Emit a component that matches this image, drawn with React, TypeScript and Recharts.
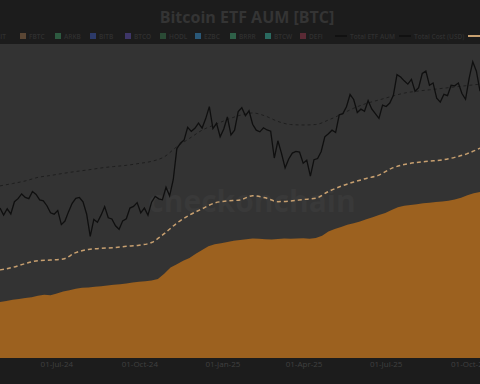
import React from "react";
import {
  ComposedChart,
  Area,
  Line,
  XAxis,
  YAxis,
} from "recharts";

// BTC price proxy (k USD), one value every 4 days from 29-Apr-24
const totalAumUsd = [
  63.5, 60.5, 63.2, 61.0, 66.2, 67.5, 69.5, 68.0, 67.5, 70.5,
  69.3, 67.0, 66.6, 64.5, 61.5, 60.9, 62.5, 56.5, 58.0, 62.0,
  65.5, 67.6, 68.0, 66.2, 61.0, 51.5, 58.7, 57.5, 60.5, 64.1,
  59.4, 58.9, 56.0, 54.5, 58.1, 59.0, 63.5, 64.2, 65.8, 61.5,
  63.5, 60.5, 66.0, 68.4, 67.4, 67.0, 72.3, 68.7, 75.5, 88.7,
  91.0, 92.3, 97.7, 96.0, 97.3, 99.5, 97.4, 101.4, 106.5, 97.2,
  99.4, 93.7, 97.0, 102.1, 94.5, 96.5, 104.4, 106.0, 102.6, 104.7,
  99.0, 96.5, 95.8, 97.5, 96.6, 96.1, 84.7, 92.0, 86.7, 80.5,
  84.3, 86.8, 87.5, 87.2, 82.5, 83.8, 77.0, 84.0, 84.5, 87.5,
  93.7, 95.0, 96.5, 95.5, 103.0, 103.5, 106.4, 111.6, 109.5, 104.0,
  105.4, 104.5, 109.0, 105.5, 103.5, 101.5, 107.1, 106.5, 108.0, 111.3,
  120.0, 119.0, 117.4, 116.0, 118.0, 113.0, 114.5, 120.5, 121.5, 115.5,
  116.5, 110.1, 108.4, 111.7, 111.1, 115.5, 115.3, 116.5, 112.0, 109.6,
  118.5, 125.5, 121.5, 113.0,
];

// smoothed USD line, every 14 days
const totalCostUsd = [
  72.9, 73.9, 75.0, 76.5, 77.3, 78.2, 79.0, 79.7, 80.5, 81.1,
  81.6, 82.4, 83.3, 85.2, 89.5, 93.0, 96.5, 98.8, 101.0, 102.8,
  103.8, 102.5, 100.2, 98.9, 98.7, 98.9, 100.8, 103.2, 105.8, 107.8,
  109.3, 110.8, 112.2, 113.0, 113.6, 114.2, 114.8, 115.4, 116.0,
];

// ETF holdings (k BTC), weekly
const etfHoldingsBtc = [
  826, 830, 836, 840, 845, 848, 855, 860, 858, 866,
  875, 882, 889, 893, 895, 898, 901, 904, 908, 910,
  913, 918, 922, 924, 928, 935, 960, 990, 1005, 1022,
  1035, 1055, 1073, 1090, 1100, 1105, 1110, 1116, 1120, 1123,
  1127, 1126, 1124, 1122, 1125, 1127, 1126, 1127, 1128, 1126,
  1129, 1140, 1160, 1172, 1182, 1192, 1200, 1208, 1218, 1228,
  1238, 1248, 1262, 1275, 1282, 1286, 1290, 1294, 1297, 1300,
  1303, 1306, 1312, 1320, 1332, 1342, 1348,
];

// dashed total (k BTC), every 14 days
const totalInflowBtc = [
  978, 990, 1008, 1022, 1025, 1030, 1060, 1075, 1080, 1084,
  1090, 1095, 1108, 1150, 1200, 1238, 1268, 1296, 1305, 1310,
  1330, 1320, 1302, 1305, 1312, 1318, 1350, 1375, 1395, 1412,
  1428, 1460, 1478, 1488, 1494, 1500, 1512, 1530, 1556,
];

// tick days (since 29-Apr-24) and labels
const tickDays = [63, 155, 247, 337, 428, 520];
const tickLabels = ["01-Jul-24", "01-Oct-24", "01-Jan-25", "01-Apr-25", "01-Jul-25", "01-Oct-25"];

const fundNames = ["IBIT", "FBTC", "ARKB", "BITB", "BTCO", "HODL", "EZBC", "BRRR", "BTCW", "DEFI"];
const fundColors = ["#5c4632", "#5a4634", "#2d5a40", "#2c3a6a", "#3e3668", "#2a4a35", "#2a5878", "#2e6048", "#2a6a60", "#5a2a35"];

const priceData = totalAumUsd.map((v, i) => ({ d: i * 4, v }));
const costData = totalCostUsd.map((v, i) => ({ d: i * 14, v }));
const holdData = etfHoldingsBtc.map((v, i) => ({ d: i * 7, v }));
const inflowData = totalInflowBtc.map((v, i) => ({ d: i * 14, v }));

const legendText: React.CSSProperties = {
  color: "#303030",
  fontSize: 6.5,
  fontWeight: 600,
  marginLeft: 3,
  whiteSpace: "nowrap",
};

const App = () => {
  return (
    <div
      style={{
        position: "fixed",
        left: 0,
        top: 0,
        width: 480,
        height: 384,
        background: "#1c1c1c",
        overflow: "hidden",
        fontFamily: "'Open Sans', sans-serif",
      }}
    >
      <div
        style={{
          position: "absolute",
          top: 6,
          left: 0,
          width: 494,
          textAlign: "center",
          color: "#343434",
          fontSize: 16,
          fontWeight: 700,
        }}
      >
        Bitcoin ETF AUM [BTC]
      </div>
      <div
        style={{
          position: "absolute",
          top: 30,
          left: -15,
          display: "flex",
          alignItems: "center",
          height: 12,
        }}
      >
        {fundNames.map((name, i) => (
          <div key={name} style={{ display: "flex", alignItems: "center", width: 35, flexShrink: 0 }}>
            <span style={{ width: 6, height: 6, background: fundColors[i], display: "inline-block" }} />
            <span style={legendText}>{name}</span>
          </div>
        ))}
        <div style={{ display: "flex", alignItems: "center", marginRight: 4, flexShrink: 0 }}>
          <span style={{ width: 12, borderTop: "2px solid #111", display: "inline-block" }} />
          <span style={legendText}>Total ETF AUM</span>
        </div>
        <div style={{ display: "flex", alignItems: "center", marginRight: 4, flexShrink: 0 }}>
          <span style={{ width: 12, borderTop: "2px dashed #111", display: "inline-block" }} />
          <span style={legendText}>Total Cost (USD)</span>
        </div>
        <div style={{ display: "flex", alignItems: "center", flexShrink: 0 }}>
          <span style={{ width: 12, borderTop: "2px dashed #c8a070", display: "inline-block" }} />
          <span style={legendText}>Total Inflow</span>
        </div>
      </div>

      <ComposedChart
        width={480}
        height={384}
        margin={{ top: 44, right: 0, bottom: 6, left: 0 }}
        style={{ position: "absolute", left: 0, top: 0 }}
      >
        <rect x={0} y={44} width={480} height={314} fill="#333333" />
        <text
          x={252}
          y={212}
          textAnchor="middle"
          fill="#393939"
          fontSize={30}
          fontWeight={700}
          fontFamily="'Open Sans', sans-serif"
        >
          checkonchain
        </text>
        <XAxis
          dataKey="d"
          type="number"
          domain={[0, 532]}
          ticks={tickDays}
          interval={0}
          allowDataOverflow
          height={20}
          tickSize={1}
          tickMargin={2}
          axisLine={false}
          tickLine={false}
          tick={{ fill: "#404040", fontSize: 8 }}
          tickFormatter={(v: number) => tickLabels[tickDays.indexOf(v)] ?? ""}
        />
        <YAxis yAxisId="usd" hide domain={[0, 133]} allowDataOverflow />
        <YAxis yAxisId="btc" hide domain={[560, 2050]} allowDataOverflow />
        <Area
          yAxisId="btc"
          data={holdData}
          dataKey="v"
          type="linear"
          stroke="none"
          fill="#9c611f"
          fillOpacity={1}
          isAnimationActive={false}
        />
        <Line
          yAxisId="btc"
          data={inflowData}
          dataKey="v"
          type="monotone"
          stroke="#c8a070"
          strokeWidth={1.5}
          strokeDasharray="4 3"
          dot={false}
          isAnimationActive={false}
        />
        <Line
          yAxisId="usd"
          data={costData}
          dataKey="v"
          type="monotone"
          stroke="#1e1e1e"
          strokeWidth={1}
          strokeDasharray="3 3"
          dot={false}
          isAnimationActive={false}
        />
        <Line
          yAxisId="usd"
          data={priceData}
          dataKey="v"
          type="linear"
          stroke="#0f0f0f"
          strokeWidth={1.3}
          dot={false}
          isAnimationActive={false}
        />
      </ComposedChart>
    </div>
  );
};

export default App;
